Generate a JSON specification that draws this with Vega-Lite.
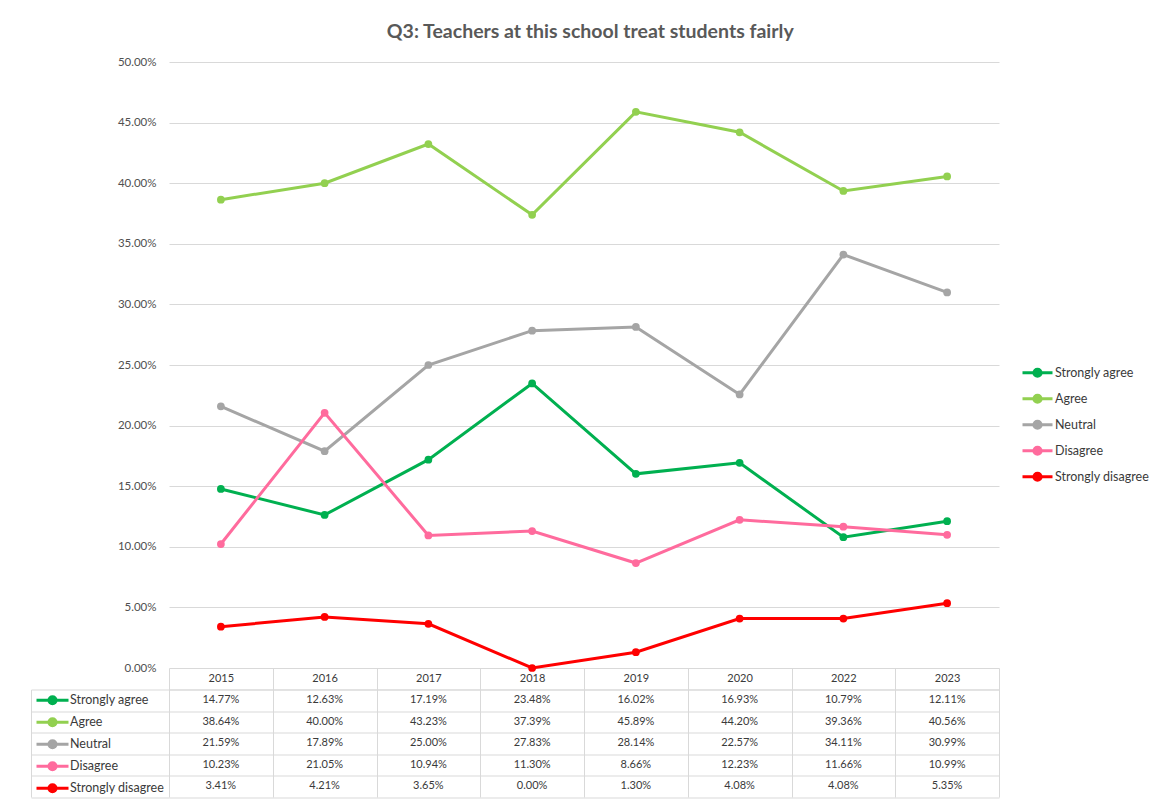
{
  "$schema": "https://vega.github.io/schema/vega-lite/v6.json",
  "padding": {"left": 30, "top": 21, "right": 5, "bottom": 2},
  "background": "white",
  "config": {
    "font": "Lato",
    "view": {"stroke": null},
    "text": {"font": "Lato"}
  },
  "title": {
    "text": "Q3: Teachers at this school treat students fairly",
    "fontSize": 19.5,
    "font": "Lato",
    "fontWeight": "bold",
    "color": "#595959",
    "anchor": "middle",
    "offset": 14
  },
  "datasets": {
    "d": [
      {"year": "2015", "series": "Strongly agree", "value": 0.1477},
      {"year": "2016", "series": "Strongly agree", "value": 0.1263},
      {"year": "2017", "series": "Strongly agree", "value": 0.1719},
      {"year": "2018", "series": "Strongly agree", "value": 0.2348},
      {"year": "2019", "series": "Strongly agree", "value": 0.1602},
      {"year": "2020", "series": "Strongly agree", "value": 0.1693},
      {"year": "2022", "series": "Strongly agree", "value": 0.1079},
      {"year": "2023", "series": "Strongly agree", "value": 0.1211},
      {"year": "2015", "series": "Agree", "value": 0.3864},
      {"year": "2016", "series": "Agree", "value": 0.4000},
      {"year": "2017", "series": "Agree", "value": 0.4323},
      {"year": "2018", "series": "Agree", "value": 0.3739},
      {"year": "2019", "series": "Agree", "value": 0.4589},
      {"year": "2020", "series": "Agree", "value": 0.4420},
      {"year": "2022", "series": "Agree", "value": 0.3936},
      {"year": "2023", "series": "Agree", "value": 0.4056},
      {"year": "2015", "series": "Neutral", "value": 0.2159},
      {"year": "2016", "series": "Neutral", "value": 0.1789},
      {"year": "2017", "series": "Neutral", "value": 0.2500},
      {"year": "2018", "series": "Neutral", "value": 0.2783},
      {"year": "2019", "series": "Neutral", "value": 0.2814},
      {"year": "2020", "series": "Neutral", "value": 0.2257},
      {"year": "2022", "series": "Neutral", "value": 0.3411},
      {"year": "2023", "series": "Neutral", "value": 0.3099},
      {"year": "2015", "series": "Disagree", "value": 0.1023},
      {"year": "2016", "series": "Disagree", "value": 0.2105},
      {"year": "2017", "series": "Disagree", "value": 0.1094},
      {"year": "2018", "series": "Disagree", "value": 0.1130},
      {"year": "2019", "series": "Disagree", "value": 0.0866},
      {"year": "2020", "series": "Disagree", "value": 0.1223},
      {"year": "2022", "series": "Disagree", "value": 0.1166},
      {"year": "2023", "series": "Disagree", "value": 0.1099},
      {"year": "2015", "series": "Strongly disagree", "value": 0.0341},
      {"year": "2016", "series": "Strongly disagree", "value": 0.0421},
      {"year": "2017", "series": "Strongly disagree", "value": 0.0365},
      {"year": "2018", "series": "Strongly disagree", "value": 0.0000},
      {"year": "2019", "series": "Strongly disagree", "value": 0.0130},
      {"year": "2020", "series": "Strongly disagree", "value": 0.0408},
      {"year": "2022", "series": "Strongly disagree", "value": 0.0408},
      {"year": "2023", "series": "Strongly disagree", "value": 0.0535}
    ]
  },
  "bounds": "flush",
  "spacing": 21.5,
  "resolve": {"legend": {"color": "independent"}},
  "vconcat": [
    {
      "width": 830,
      "height": 606,
      "data": {"name": "d"},
      "encoding": {
        "x": {"field": "year", "type": "ordinal", "scale": {"type": "point", "padding": 0.5}, "axis": null},
        "y": {
          "field": "value", "type": "quantitative",
          "scale": {"domain": [0, 0.5]},
          "axis": {
            "values": [0, 0.05, 0.1, 0.15, 0.2, 0.25, 0.3, 0.35, 0.4, 0.45, 0.5],
            "format": ".2%",
            "title": null,
            "domain": false,
            "ticks": false,
            "labelPadding": 13,
            "labelFont": "Lato",
            "labelFontSize": 11.5,
            "labelColor": "#505050",
            "gridColor": "#d9d9d9",
            "gridWidth": 1
          }
        },
        "color": {
          "field": "series", "type": "nominal",
          "scale": {
            "domain": ["Strongly agree", "Agree", "Neutral", "Disagree", "Strongly disagree"],
            "range": ["#00b050", "#92d050", "#a5a5a5", "#ff6b9d", "#ff0000"]
          },
          "legend": {
            "title": null,
            "orient": "none",
            "legendX": 852,
            "legendY": 298,
            "padding": 0,
            "rowPadding": 0,
            "clipHeight": 25.5,
            "symbolType": "M-1,0H1M0.24,0A0.24,0.24,0,1,1,-0.24,0A0.24,0.24,0,1,1,0.24,0Z",
            "symbolSize": 900,
            "symbolStrokeWidth": 3,
            "symbolOpacity": 1,
            "labelOffset": 1,
            "labelFont": "Lato",
            "labelFontSize": 12.5,
            "labelColor": "#3a3a3a",
            "encode": {
              "symbols": {
                "update": {
                  "stroke": {"scale": "color", "field": "value"},
                  "fill": {"scale": "color", "field": "value"},
                  "strokeWidth": {"value": 3}
                }
              }
            }
          }
        }
      },
      "layer": [
        {"mark": {"type": "line", "strokeWidth": 3}},
        {"mark": {"type": "point", "filled": true, "size": 60, "opacity": 1}}
      ]
    },
    {
      "width": 830,
      "height": 107.5,
      "data": {"name": "d"},
      "encoding": {
        "x": {
          "field": "year", "type": "ordinal",
          "scale": {"type": "band", "paddingInner": 0, "paddingOuter": 0},
          "axis": {
            "orient": "top",
            "title": null,
            "tickBand": "extent",
            "tickSize": 21.5,
            "tickColor": "#d9d9d9",
            "domainColor": "#d9d9d9",
            "grid": true,
            "gridColor": "#d9d9d9",
            "labelAngle": 0,
            "labelBaseline": "middle",
            "labelPadding": -10.75,
            "labelFont": "Lato",
            "labelFontSize": 11,
            "labelColor": "#3a3a3a"
          }
        },
        "y": {
          "field": "series", "type": "nominal",
          "sort": ["Strongly agree", "Agree", "Neutral", "Disagree", "Strongly disagree"],
          "scale": {"type": "band", "paddingInner": 0, "paddingOuter": 0},
          "axis": {
            "orient": "left",
            "title": null,
            "labels": false,
            "tickBand": "extent",
            "tickSize": -138,
            "offset": 138,
            "tickColor": "#d9d9d9",
            "domainColor": "#d9d9d9",
            "grid": true,
            "gridColor": "#d9d9d9"
          }
        }
      },
      "layer": [
        {
          "mark": {"type": "text", "font": "Lato", "fontSize": 11, "color": "#3a3a3a"},
          "encoding": {"text": {"field": "value", "type": "quantitative", "format": ".2%"}}
        },
        {
          "mark": {"type": "point", "filled": true, "opacity": 0, "size": 1},
          "encoding": {
            "color": {
              "field": "series", "type": "nominal",
              "legend": {
                "title": null,
                "orient": "none",
                "legendX": -134,
                "legendY": 0,
                "padding": 0,
                "rowPadding": 0,
                "clipHeight": 21.5,
                "symbolType": "M-1,0H1M0.22,0A0.22,0.22,0,1,1,-0.22,0A0.22,0.22,0,1,1,0.22,0Z",
                "symbolSize": 1024,
                "symbolStrokeWidth": 3,
                "symbolOpacity": 1,
                "labelOffset": 0,
                "labelFont": "Lato",
                "labelFontSize": 12.5,
                "labelColor": "#3a3a3a",
                "encode": {
                  "symbols": {
                    "update": {
                      "stroke": {"scale": "color", "field": "value"},
                      "fill": {"scale": "color", "field": "value"},
                      "strokeWidth": {"value": 3},
                      "opacity": {"value": 1}
                    }
                  }
                }
              }
            }
          }
        }
      ]
    }
  ]
}
